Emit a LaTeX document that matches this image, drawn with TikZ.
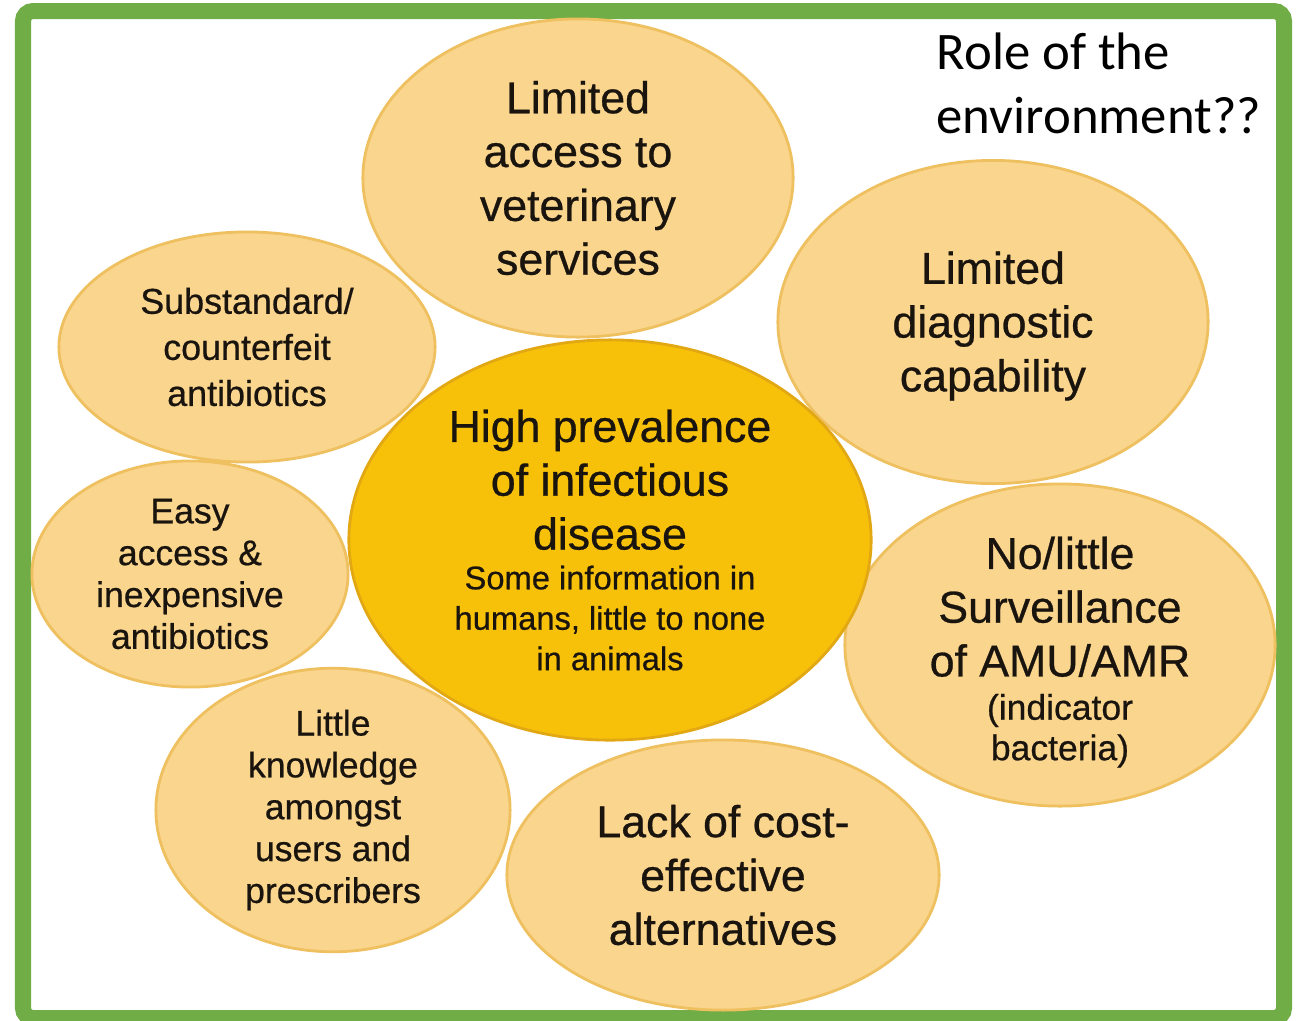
\documentclass[tikz,border=0pt]{standalone}
\usepackage{fontspec}
\setmainfont{Liberation Sans}
\newfontfamily\bubblefont[FakeBold=0.6]{Liberation Sans}
\newfontfamily\calibri{Carlito}
\usepackage{xcolor}
\usepackage{tikz}
\usetikzlibrary{shapes.geometric,positioning}
\definecolor{framegreen}{RGB}{112,173,71}
\definecolor{bubblefill}{RGB}{250,213,142}
\definecolor{bubbleedge}{RGB}{238,192,96}
\definecolor{corefill}{RGB}{247,193,10}
\definecolor{coreedge}{RGB}{226,168,20}
\definecolor{inktext}{RGB}{26,20,14}
\newcommand{\smallsz}{\fontsize{10.1}{11.6}\selectfont}
\newcommand{\notesz}{\fontsize{9.3}{11.5}\selectfont}
\tikzset{
  cause bubble/.style={
    ellipse,
    draw=bubbleedge,
    fill=bubblefill,
    line width=0.8pt,
    inner sep=0pt,
    align=center,
    text=inktext
  },
  core bubble/.style={
    cause bubble,
    draw=coreedge,
    fill=corefill
  },
  big text/.style={font=\bubblefont\fontsize{12.7}{15.3}\selectfont},
  small text/.style={font=\bubblefont\fontsize{10.1}{11.9}\selectfont}
}

\begin{document}
\begin{tikzpicture}[x=0.01cm, y=-0.01cm]
  \useasboundingbox (0,0) rectangle (1296,1020);

  % Outer frame
  \draw[framegreen, line width=0.16cm, rounded corners=0.1cm] (23,11) rectangle (1284,1018);

  % Surrounding causes
  \node[cause bubble, big text, minimum width=4.3cm, minimum height=3.18cm] (vet) at (578,178)
    {Limited\\access to\\veterinary\\services};
  \node[cause bubble, minimum width=4.3cm, minimum height=3.23cm] at (993,322) (diag) {};
  \node[big text, align=center, text=inktext, inner sep=0pt] (diagtext) at (993,326)
    {Limited\\diagnostic\\capability};
  \node[cause bubble, font=\bubblefont\fontsize{10.2}{13.1}\selectfont, minimum width=3.76cm, minimum height=2.3cm] (fake) at (247,347)
    {Substandard/\\counterfeit\\antibiotics};
  \node[cause bubble, small text, minimum width=3.16cm, minimum height=2.26cm] (cheap) at (190,574)
    {Easy\\access \&\\inexpensive\\antibiotics};
  \node[cause bubble, minimum width=4.3cm, minimum height=3.22cm] (surv) at (1060,645) {};
  \node[big text, align=center, text=inktext, inner sep=0pt] (survtext) at (1060,652)
    {No/little\\Surveillance\\of AMU/AMR\\[-3pt]\smallsz (indicator\\[-3.8pt]\smallsz bacteria)};
  \node[cause bubble, small text, minimum width=3.54cm, minimum height=2.7cm] (know) at (333,810)
    {Little\\knowledge\\amongst\\users and\\prescribers};
  \node[cause bubble, big text, minimum width=4.32cm, minimum height=2.7cm] (alt) at (723,875)
    {Lack of cost-\\effective\\alternatives};

  % Central problem
  \node[core bubble, big text, minimum width=5.22cm, minimum height=4.0cm] (core) at (610,540)
    {High prevalence\\of infectious\\disease\\[-4pt]\notesz Some information in\\[-3.8pt]\notesz humans, little to none\\[-3.8pt]\notesz in animals};

  % Question in the corner
  \node[anchor=north west, align=left, inner sep=0pt, font=\calibri\fontsize{15}{18.2}\selectfont] (env) at (936,32)
    {Role of the\\environment??};
\end{tikzpicture}
\end{document}
